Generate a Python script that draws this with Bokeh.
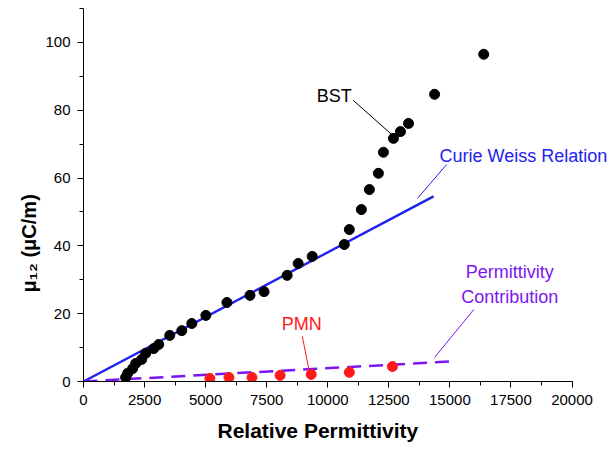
from bokeh.plotting import figure
from bokeh.models import Range1d, FixedTicker, Label, Title
from bokeh.embed import file_html
from bokeh.resources import INLINE

# BST data (relative permittivity, mu12 in uC/m)
bst_x = [1725, 1807, 2012, 2136, 2382, 2546, 2875, 3080, 3532, 4025, 4435, 5010,
         5873, 6817, 7392, 8337, 8789, 9363, 10678, 10883, 11376, 11704, 12074,
         12279, 12690, 12977, 13306, 14374, 16386]
bst_y = [1.2, 2.4, 3.8, 5.3, 6.5, 8.3, 9.7, 10.9, 13.6, 15.0, 17.1, 19.5,
         23.3, 25.4, 26.5, 31.3, 34.8, 36.9, 40.4, 44.8, 50.7, 56.6, 61.4,
         67.6, 71.7, 73.7, 76.1, 84.7, 96.5]

# PMN data
pmn_x = [5175, 5955, 6899, 8049, 9322, 10883, 12649]
pmn_y = [0.9, 1.2, 1.2, 1.8, 2.1, 2.7, 4.4]

# Curie Weiss relation line
cw_x = [0, 14333]
cw_y = [0, 54.6]

# Permittivity contribution (dashed)
pc_x = [0, 15030]
pc_y = [0, 5.9]

x_ticks = [0, 2500, 5000, 7500, 10000, 12500, 15000, 17500, 20000]
x_minor = [1250 * i for i in range(17)]
y_ticks = [0, 20, 40, 60, 80, 100]
y_minor = [10 * i for i in range(12)]

FONT = "Liberation Sans"
BLUE = "#2222ee"
PURPLE = "#7a16f0"
RED = "#ff1a1a"

p = figure(width=612, height=452, output_backend="svg", toolbar_location=None,
           x_range=Range1d(0, 21658), y_range=Range1d(0, 110),
           min_border_left=83, min_border_right=0, min_border_top=8,
           min_border_bottom=71)
p.outline_line_color = None
p.xgrid.visible = False
p.ygrid.visible = False

p.line(cw_x, cw_y, line_color=BLUE, line_width=2.4)
p.line(pc_x, pc_y, line_color=PURPLE, line_width=2.5, line_dash="14 8")
p.scatter(bst_x, bst_y, size=10, fill_color="black", line_color="black")
p.scatter(pmn_x, pmn_y, size=10, fill_color=RED, line_color=RED)

# leader lines
p.segment(x0=[11047], y0=[82.9], x1=[12608], y1=[72.9], line_color="black", line_width=1)
p.segment(x0=[14867], y0=[64.0], x1=[13676], y1=[54.0], line_color=BLUE, line_width=1)
p.segment(x0=[15975], y0=[21.2], x1=[14374], y1=[7.1], line_color=PURPLE, line_width=1)
p.segment(x0=[8960], y0=[13.3], x1=[9240], y1=[3.0], line_color=RED, line_width=1)

def lab(x, y, text, color, align="center"):
    p.add_layout(Label(x=x, y=y, text=text, text_color=color, text_font=FONT,
                       text_font_size="18px", text_align=align,
                       text_baseline="middle"))

lab(10267, 84.1, "BST", "black")
lab(14579, 66.4, "Curie Weiss Relation", BLUE, "left")
lab(17454, 32.2, "Permittivity", PURPLE)
lab(17454, 25.0, "Contribution", PURPLE)
lab(8932, 17.1, "PMN", RED)

for ax in (p.xaxis[0], p.yaxis[0]):
    ax.axis_line_color = "black"
    ax.major_tick_line_color = "black"
    ax.minor_tick_line_color = "black"
    ax.major_tick_out = 6
    ax.major_tick_in = 0
    ax.minor_tick_out = 4
    ax.minor_tick_in = 0
    ax.major_label_text_font = FONT
    ax.major_label_text_font_size = "15px"
    ax.major_label_text_color = "black"

p.xaxis.ticker = FixedTicker(ticks=x_ticks, minor_ticks=x_minor)
p.yaxis.ticker = FixedTicker(ticks=y_ticks, minor_ticks=y_minor)
p.xaxis.bounds = (0, 20000)
p.xaxis.major_label_standoff = 7
p.yaxis.major_label_standoff = 7

xtitle = Title(text="Relative Permittivity", align="left", offset=134, text_font=FONT,
               text_font_size="21px", text_font_style="bold", text_color="black",
               standoff=18)
p.add_layout(xtitle, "below")

ytitle = Title(text="μ₁₂ (μC/m)", align="left", offset=89, text_font=FONT,
               text_font_size="20px", text_font_style="bold", text_color="black",
               standoff=6)
p.add_layout(ytitle, "left")

open("out.html", "w").write(file_html(p, INLINE))
